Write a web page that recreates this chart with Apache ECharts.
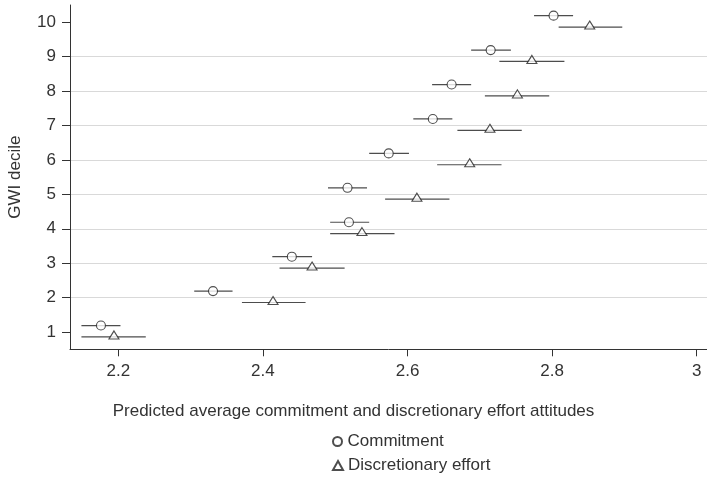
<!DOCTYPE html>
<html>
<head>
<meta charset="utf-8">
<script src="https://cdn.jsdelivr.net/npm/echarts@6/dist/echarts.min.js"></script>
<style>html,body{margin:0;padding:0;background:#fff}#c{width:707px;height:481px}</style>
</head>
<body>
<div id="c"></div>
<script>
var deciles = [1, 2, 3, 4, 5, 6, 7, 8, 9, 10];
var commitMean = [2.176, 2.331, 2.440, 2.519, 2.517, 2.574, 2.635, 2.661, 2.715, 2.802];
var commitLo   = [2.149, 2.305, 2.413, 2.493, 2.490, 2.547, 2.608, 2.634, 2.688, 2.775];
var commitHi   = [2.203, 2.358, 2.468, 2.547, 2.544, 2.602, 2.662, 2.688, 2.743, 2.829];
var discMean   = [2.194, 2.414, 2.468, 2.537, 2.613, 2.686, 2.714, 2.752, 2.772, 2.852];
var discLo     = [2.149, 2.371, 2.423, 2.493, 2.569, 2.641, 2.669, 2.707, 2.727, 2.809];
var discHi     = [2.238, 2.459, 2.513, 2.582, 2.658, 2.730, 2.758, 2.796, 2.817, 2.897];
var xTicks = [2.2, 2.4, 2.6, 2.8, 3];
var yTicks = [1, 2, 3, 4, 5, 6, 7, 8, 9, 10];
var xTitle = 'Predicted average commitment and discretionary effort attitudes';
var yTitle = 'GWI decile';

var UP = 0.19, DOWN = -0.14;
var FONT = "'Liberation Sans', Arial, sans-serif";
var FS = 17;

function errData(lo, hi, off) {
  return deciles.map(function (d, i) { return [lo[i], hi[i], d + off]; });
}
function ptData(m, off) {
  return deciles.map(function (d, i) { return [m[i], d + off]; });
}
function errRender(params, api) {
  var a = api.coord([api.value(0), api.value(2)]);
  var b = api.coord([api.value(1), api.value(2)]);
  return { type: 'line', shape: { x1: a[0], y1: a[1], x2: b[0], y2: b[1] },
           style: { stroke: '#4d4d4d', lineWidth: 1.2 } };
}
var legendText = { color: '#333', fontSize: FS, fontFamily: FONT };

var chart = echarts.init(document.getElementById('c'), null, { renderer: 'canvas' });
chart.setOption({
  animation: false,
  backgroundColor: '#fff',
  title: { text: xTitle, left: 'center', top: 403, padding: 0,
           textStyle: { color: '#333', fontSize: FS, fontFamily: FONT, fontWeight: 'normal' } },
  grid: { left: 70, right: 0, top: 5, bottom: 131.7, containLabel: false, outerBoundsMode: 'none' },
  xAxis: {
    type: 'value', min: 2.1332, max: 3.0142,
    axisLine: { lineStyle: { color: '#333', width: 1 } },
    axisTick: { length: 7, customValues: xTicks, lineStyle: { color: '#333' } },
    axisLabel: { customValues: xTicks, color: '#333', fontSize: FS, fontFamily: FONT, margin: 14 },
    splitLine: { show: false }
  },
  yAxis: {
    type: 'value', min: 0.5, max: 10.5, interval: 1,
    axisLine: { show: true, lineStyle: { color: '#333', width: 1 } },
    axisTick: { show: true, length: 8, customValues: yTicks, lineStyle: { color: '#333' } },
    axisLabel: { customValues: yTicks, color: '#333', fontSize: FS, fontFamily: FONT, margin: 14 },
    splitLine: { show: true, showMinLine: false, showMaxLine: false, lineStyle: { color: '#d9d9d9', width: 1.2 } },
    name: yTitle, nameLocation: 'middle', nameGap: 46,
    nameTextStyle: { color: '#333', fontSize: FS, fontFamily: FONT }
  },
  legend: [
    { left: 327, top: 428, itemWidth: 10, itemHeight: 9, itemGap: 4,
      textStyle: legendText, data: ['Commitment'] },
    { left: 327, top: 452, itemWidth: 10, itemHeight: 9, itemGap: 4,
      textStyle: legendText, data: ['Discretionary effort'] }
  ],
  series: [
    { type: 'custom', name: 'ci1', renderItem: errRender, data: errData(commitLo, commitHi, UP),
      encode: { x: [0, 1], y: 2 }, z: 1, silent: true },
    { type: 'custom', name: 'ci2', renderItem: errRender, data: errData(discLo, discHi, DOWN),
      encode: { x: [0, 1], y: 2 }, z: 1, silent: true },
    { type: 'scatter', name: 'Commitment', symbol: 'circle', symbolSize: 9,
      data: ptData(commitMean, UP), z: 3,
      itemStyle: { color: '#fff', borderColor: '#222', borderWidth: 1.1 } },
    { type: 'scatter', name: 'Discretionary effort', symbol: 'triangle', symbolSize: [10, 8],
      symbolOffset: [0, -2],
      data: ptData(discMean, DOWN), z: 3,
      itemStyle: { color: '#fff', borderColor: '#222', borderWidth: 1.1 } }
  ]
});
</script>
</body>
</html>
